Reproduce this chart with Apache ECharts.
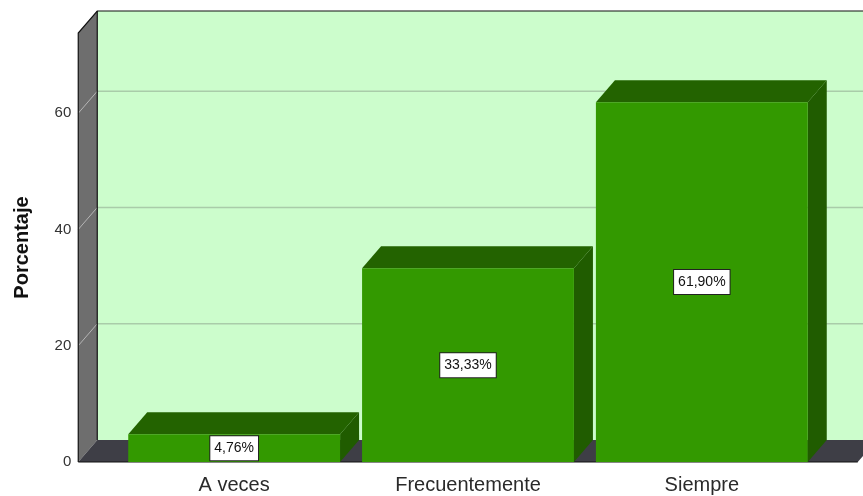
<!DOCTYPE html>
<html>
<head>
<meta charset="utf-8">
<script src="https://cdn.jsdelivr.net/npm/echarts@6/dist/echarts.min.js"></script>
<style>
html,body{margin:0;padding:0;background:#fff;}
#chart{width:863px;height:496px;}
</style>
</head>
<body>
<div id="chart"></div>
<script>
const categories = ['A veces', 'Frecuentemente', 'Siempre'];
const percentages = [4.76, 33.33, 61.90];
const yTicks = [0, 20, 40, 60];
const yMax = 73.8;

const FONT = "'Liberation Sans', Arial, sans-serif";
const DX = 19, DY = -22, EXT = 39;

const chart = echarts.init(document.getElementById('chart'), null, {renderer: 'canvas'});

function wallsRender(params, api) {
  const cs = params.coordSys;
  const L = cs.x - EXT, R = cs.x + cs.width + EXT;
  const yB = api.coord([0, 0])[1];
  const yT = api.coord([0, yMax])[1];
  const children = [];
  children.push({type: 'rect', shape: {x: L + DX, y: yT + DY, width: R - L, height: yB - yT},
    style: {fill: '#ccfdcc'}});
  yTicks.forEach(v => {
    if (v === 0) return;
    const y = api.coord([0, v])[1];
    children.push({type: 'line', shape: {x1: L + DX, y1: y + DY, x2: R + DX, y2: y + DY},
      style: {stroke: '#a9cca9', lineWidth: 1.5}});
  });
  children.push({type: 'polygon', shape: {points: [[L, yT], [L + DX, yT + DY], [L + DX, yB + DY], [L, yB]]},
    style: {fill: '#6e6e6e'}});
  yTicks.forEach(v => {
    if (v === 0) return;
    const y = api.coord([0, v])[1];
    children.push({type: 'line', shape: {x1: L, y1: y, x2: L + DX, y2: y + DY},
      style: {stroke: '#b5b5b5', lineWidth: 1}});
  });
  children.push({type: 'polygon', shape: {points: [[L, yB], [L + DX, yB + DY], [R + DX, yB + DY], [R, yB]]},
    style: {fill: '#3e3e46'}});
  children.push({type: 'polyline', shape: {points: [[L, yB], [L, yT], [L + DX, yT + DY], [R + DX, yT + DY]]},
    style: {stroke: '#111', lineWidth: 1.2, fill: null}});
  children.push({type: 'line', shape: {x1: L + DX, y1: yT + DY, x2: L + DX, y2: yB + DY},
    style: {stroke: '#111', lineWidth: 1.2}});
  children.push({type: 'line', shape: {x1: L, y1: yB, x2: R, y2: yB},
    style: {stroke: '#111', lineWidth: 1.2}});
  return {type: 'group', children: children};
}

function barRender(params, api) {
  const i = api.value(0), v = api.value(1);
  const top = api.coord([i, v]);
  const base = api.coord([i, 0]);
  const bw = api.size([1, 0])[0] * 0.906;
  const x0 = top[0] - bw / 2, x1 = top[0] + bw / 2;
  const yt = top[1], yb = base[1];
  const label = v.toFixed(2).replace('.', ',') + '%';
  return {
    type: 'group',
    children: [
      {type: 'polygon', shape: {points: [[x0, yt], [x0 + DX, yt + DY], [x1 + DX, yt + DY], [x1, yt]]},
        style: {fill: '#236300'}},
      {type: 'polygon', shape: {points: [[x1, yt], [x1 + DX, yt + DY], [x1 + DX, yb + DY], [x1, yb]]},
        style: {fill: '#205c00'}},
      {type: 'rect', shape: {x: x0, y: yt, width: bw, height: yb - yt},
        style: {fill: '#339900'}},
      {type: 'text', style: {
        text: label, x: top[0], y: (yt + yb) / 2, align: 'center', verticalAlign: 'middle',
        fontSize: 14, fontFamily: FONT, fill: '#111',
        backgroundColor: '#ffffff', borderColor: '#222', borderWidth: 1, padding: [5, 4, 5, 4]
      }, z2: 10}
    ]
  };
}

chart.setOption({
  animation: false,
  backgroundColor: '#ffffff',
  textStyle: {fontFamily: FONT},
  grid: {left: 117.25, right: 44.25, top: 33, bottom: 34, containLabel: false},
  xAxis: {
    type: 'category',
    data: categories,
    axisLine: {show: false},
    axisTick: {show: false},
    axisLabel: {fontSize: 20, color: '#2a2a2a', margin: 13, fontFamily: FONT}
  },
  yAxis: {
    type: 'value',
    min: 0, max: yMax, interval: 20,
    offset: 39,
    name: 'Porcentaje',
    nameLocation: 'middle',
    nameGap: 46,
    nameTextStyle: {fontSize: 20, fontWeight: 'bold', color: '#111', fontFamily: FONT},
    axisLine: {show: false},
    axisTick: {show: false},
    splitLine: {show: false},
    axisLabel: {fontSize: 15, color: '#333', margin: 7, showMaxLabel: false, fontFamily: FONT,
      formatter: v => (yTicks.indexOf(v) >= 0 ? String(v) : '')}
  },
  series: [
    {type: 'custom', name: 'walls', renderItem: wallsRender, data: [[0, 0]], z: 1, silent: true},
    {type: 'custom', name: 'Porcentaje', renderItem: barRender,
      data: percentages.map((v, i) => [i, v]), z: 2}
  ]
});
</script>
</body>
</html>
